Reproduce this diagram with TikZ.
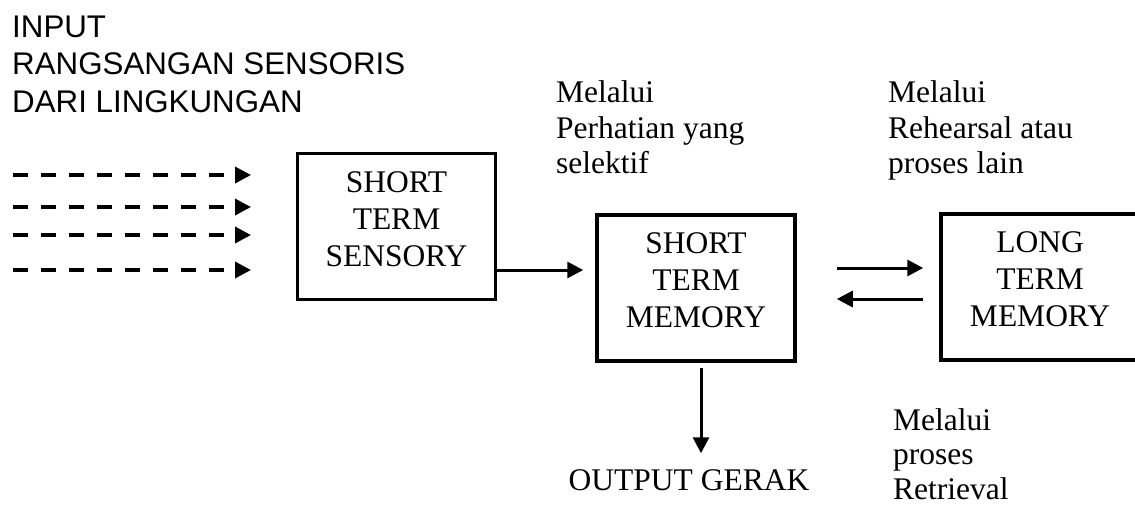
\documentclass[tikz,border=0pt]{standalone}
\usepackage{fontspec}
\setmainfont{Liberation Serif}
\newfontfamily\sansf{Liberation Sans}
\usetikzlibrary{arrows.meta}
\tikzset{
  memorybox/.style={draw, line width=3.5pt, minimum width=198pt, minimum height=146pt, inner sep=0pt},
  boxlabel/.style={align=center, inner sep=0pt, font=\fontsize{31.5}{37}\selectfont},
  note/.style={align=left, inner sep=0pt, anchor=north west, font=\fontsize{31.5}{35.5}\selectfont},
  arr/.style={line width=3pt, -{Triangle[length=16pt,width=16pt]}},
  darr/.style={line width=3.5pt, dash pattern=on 15pt off 13pt, -{Triangle[length=16pt,width=16pt]}}
}
\begin{document}
\begin{tikzpicture}[x=1pt,y=-1pt]
\useasboundingbox (0,0) rectangle (1135,504);

% input text
\node[note, font=\sansf\fontsize{31.3}{37.5}\selectfont] (inp) at (12,15.5) {INPUT\\RANGSANGAN SENSORIS\\DARI LINGKUNGAN};

% boxes
\node[memorybox] (b1) at (396.5,226.5) {};
\node[boxlabel] (l1) at ([yshift=7.5pt]b1.center) {SHORT\\TERM\\SENSORY};
\node[memorybox] (b2) at (696,288) {};
\node[boxlabel] (l2) at ([yshift=7.5pt]b2.center) {SHORT\\TERM\\MEMORY};
\node[memorybox] (b3) at (1040,287) {};
\node[boxlabel] (l3) at ([yshift=7.5pt]b3.center) {LONG\\TERM\\MEMORY};

% notes
\node[note] (n1) at (556,80.7) {Melalui\\Perhatian yang\\selektif};
\node[note] (n2) at (888,80.7) {Melalui\\Rehearsal atau\\proses lain};
\node[note, font=\fontsize{31.5}{34.5}\selectfont] (n3) at (893,408.2) {Melalui\\proses\\Retrieval};
\node[inner sep=0pt, anchor=base, font=\fontsize{31.5}{36}\selectfont] (out) at (689,490) {OUTPUT GERAK};

% dashed inputs
\coordinate (d1s) at (13,175); \coordinate (d1e) at (251,175);
\coordinate (d2s) at (13,207); \coordinate (d2e) at (251,207);
\coordinate (d3s) at (13,235); \coordinate (d3e) at (251,235);
\coordinate (d4s) at (13,270); \coordinate (d4e) at (251,270);
\draw[darr] (d1s) -- (d1e);
\draw[darr] (d2s) -- (d2e);
\draw[darr] (d3s) -- (d3e);
\draw[darr] (d4s) -- (d4e);

% connectors
\draw[arr, shorten >=12pt] (b1.east |- 0,270) -- (b2.west |- 0,270);
\draw[arr, shorten <=40pt, shorten >=16pt] (b2.east |- 0,268) -- (b3.west |- 0,268);
\draw[arr, shorten <=16pt, shorten >=40pt] (b3.west |- 0,299) -- (b2.east |- 0,299);
\draw[arr, shorten <=5pt, shorten >=15.7pt] ([xshift=5pt]b2.south) -- ([xshift=5pt]b2.south |- out.north);
\end{tikzpicture}
\end{document}
